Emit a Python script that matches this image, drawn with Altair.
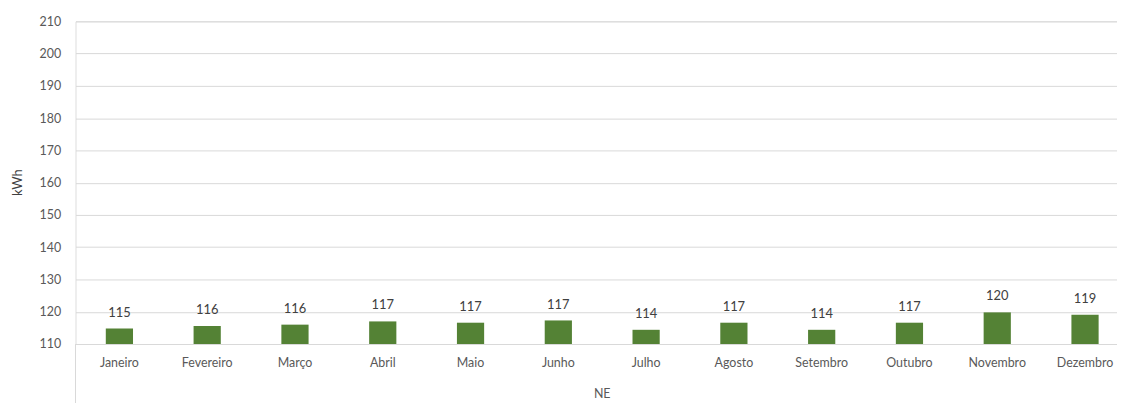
import altair as alt
import pandas as pd

months = ["Janeiro", "Fevereiro", "Março", "Abril", "Maio", "Junho",
          "Julho", "Agosto", "Setembro", "Outubro", "Novembro", "Dezembro"]
values = [114.8, 115.6, 116.0, 117.0, 116.6, 117.3,
          114.4, 116.6, 114.4, 116.6, 119.8, 119.1]
labels = [115, 116, 116, 117, 117, 117, 114, 117, 114, 117, 120, 119]
y_ticks = list(range(110, 211, 10))

df = pd.DataFrame({"mes": months, "kwh": values, "rotulo": labels})

FONT = "Lato"
GRID = "#d9d9d9"

x_enc = alt.X(
    "mes:N", sort=months,
    scale=alt.Scale(paddingInner=0.69, paddingOuter=0.345, range=[0, 1061]),
    axis=alt.Axis(title="NE", labelAngle=0, ticks=False, domain=True,
                  domainColor=GRID, labelPadding=13, labelFontSize=12.5,
                  labelColor="#595959", labelFont=FONT,
                  titleFont=FONT, titleFontSize=12.5, titleFontWeight="normal",
                  titleColor="#595959", titleX=530, titleY=50,
                  titleBaseline="middle"),
)

y_enc = alt.Y(
    "kwh:Q",
    scale=alt.Scale(domain=[110, 210], zero=False, nice=False),
    axis=alt.Axis(title="kWh", values=y_ticks, ticks=False, domain=False,
                  gridColor=GRID, labelPadding=15, labelFontSize=12.5,
                  labelOverlap=False,
                  labelColor="#595959", labelFont=FONT,
                  titleFont=FONT, titleFontSize=13, titleFontWeight="normal",
                  titleColor="#404040", titleX=-58, titleY=162,
                  titleBaseline="middle", titleAlign="center"),
)

base = alt.Chart(df).encode(x=x_enc, y=y_enc)

bars = base.mark_bar(color="#548235").encode(y2=alt.datum(110))

text = base.mark_text(baseline="alphabetic", dy=-12, fontSize=13,
                      font=FONT, color="#404040").encode(
    text="rotulo:Q",
)

edge = alt.Chart(df).mark_rule(color=GRID, strokeWidth=1).encode(
    x=alt.value(0), y=alt.value(325), y2=alt.value(400)
)

chart = alt.layer(bars, text, edge).properties(
    width=1049, height=325,
    autosize=alt.AutoSizeParams(type="none"),
    padding={"left": 68, "top": 12, "right": 0, "bottom": 58},
).configure_view(stroke=None).configure(background="white")

chart.save("out.html", embed_options={"renderer": "svg", "actions": False})
